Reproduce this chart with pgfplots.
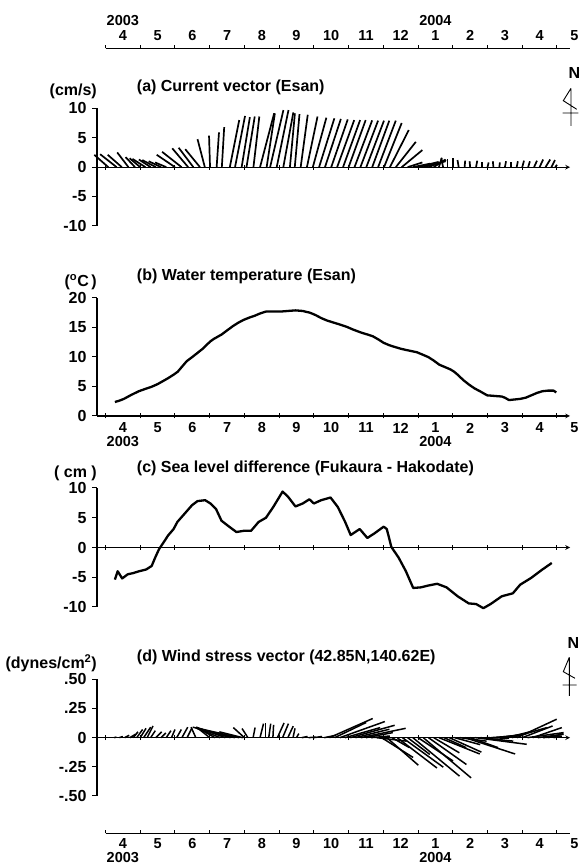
\documentclass[border=0pt]{standalone}
\usepackage{fontspec}
\setmainfont{Liberation Sans}
\usepackage{pgfplots}
\pgfplotsset{compat=1.18}
\usepackage{pgfplotstable}

% (a) current vectors: base time (months from 1 Apr 2003), east u, north v (cm/s)
\pgfplotstableread{
t u v
0.08 -2.37 2.09
0.32 -2.8 2.2
0.47 -2.4 2.1
0.66 -1.9 2.5
0.85 -1.6 1.7
1.00 -1.8 1.5
1.15 -2.2 1.4
1.30 -2.0 1.3
1.45 -2.3 1.2
1.60 -2.1 1.0
1.75 -1.9 0.8
2.00 -3.1 2.1
2.19 -3.3 2.6
2.38 -2.7 3.2
2.53 -2.5 3.3
2.72 -2.5 3.05
2.86 -1.24 4.75
3.01 -0.17 5.37
3.20 0.4 5.9
3.35 0.4 6.8
3.58 1.6 8.0
3.73 1.7 8.7
3.92 1.4 8.5
4.06 1.4 8.6
4.26 1.0 8.6
4.45 2.4 9.15
4.64 1.4 9.15
4.74 2.26 9.7
4.93 2.0 9.7
5.12 1.7 9.3
5.31 0.85 9.15
5.45 0.8 9.0
5.62 1.2 8.9
5.80 1.8 8.6
5.97 2.3 8.4
6.15 2.6 8.3
6.32 2.7 8.2
6.50 2.8 8.1
6.67 2.9 8.0
6.84 2.9 8.0
7.00 2.9 8.0
7.17 3.0 7.95
7.34 3.0 7.9
7.51 3.0 7.9
7.68 2.9 7.9
7.85 3.0 7.9
8.02 3.0 7.5
8.19 3.2 6.3
8.36 3.4 4.3
8.53 3.5 2.9
8.70 2.5 0.8
8.85 3.0 0.6
9.00 3.5 0.9
9.15 3.8 1.0
9.30 3.0 1.2
9.45 2.0 1.3
9.60 0.5 1.6
9.72 -0.3 1.5
9.85 0.0 1.3
10.00 0.0 1.5
10.17 -0.2 1.2
10.34 0.1 1.1
10.50 -0.1 1.0
10.67 0.2 1.1
10.84 0.0 0.9
11.00 0.2 0.8
11.17 -0.1 1.0
11.34 0.1 0.8
11.50 0.2 1.0
11.67 0.0 0.9
11.84 0.2 1.0
12.00 0.3 1.1
12.17 0.3 1.0
12.34 0.5 1.1
12.50 0.6 1.3
12.67 0.8 1.3
12.84 0.6 1.2
12.95 0.3 0.4
}\currentdata

% (b) water temperature (deg C)
\pgfplotstableread{
t T
0.27 2.37
0.40 2.6
0.53 2.9
0.75 3.6
0.96 4.2
1.15 4.6
1.33 4.96
1.50 5.4
1.65 5.9
1.80 6.4
1.96 7.0
2.08 7.5
2.18 8.2
2.34 9.3
2.50 10.0
2.65 10.7
2.80 11.4
2.92 12.1
3.03 12.7
3.13 13.1
3.34 13.8
3.50 14.5
3.66 15.2
3.82 15.8
3.98 16.3
4.15 16.7
4.30 17.0
4.46 17.4
4.62 17.7
4.80 17.7
5.04 17.7
5.25 17.8
5.47 17.9
5.68 17.8
5.89 17.5
6.05 17.1
6.21 16.6
6.37 16.2
6.53 15.9
6.75 15.5
6.95 15.1
7.15 14.6
7.38 14.1
7.55 13.8
7.70 13.5
7.85 13.0
8.01 12.4
8.17 12.0
8.33 11.7
8.50 11.4
8.65 11.2
8.81 11.0
8.97 10.8
9.13 10.4
9.29 10.0
9.45 9.4
9.61 8.7
9.77 8.3
9.93 7.9
10.04 7.5
10.14 7.0
10.30 6.1
10.46 5.35
10.62 4.7
10.78 4.2
10.90 3.8
10.99 3.5
11.20 3.4
11.41 3.3
11.50 3.1
11.62 2.7
11.78 2.8
11.94 2.9
12.10 3.1
12.26 3.5
12.42 3.9
12.58 4.2
12.74 4.3
12.90 4.3
12.98 4.0
}\tempdata

% (c) sea level difference (cm)
\pgfplotstableread{
t h
0.27 -5.4
0.35 -3.98
0.48 -5.2
0.64 -4.5
0.80 -4.3
0.96 -4.0
1.17 -3.7
1.33 -3.1
1.43 -1.7
1.54 -0.3
1.70 1.1
1.80 2.0
1.96 3.1
2.07 4.3
2.28 5.7
2.49 7.1
2.65 7.8
2.87 7.95
3.02 7.4
3.18 6.5
3.34 4.5
3.56 3.5
3.77 2.6
3.98 2.8
4.19 2.8
4.41 4.3
4.62 5.0
4.83 6.8
5.10 9.4
5.26 8.5
5.47 6.9
5.68 7.4
5.87 8.1
6.00 7.4
6.21 7.95
6.48 8.4
6.69 6.8
6.90 4.3
7.06 2.1
7.32 3.1
7.54 1.6
7.75 2.4
8.01 3.5
8.10 3.1
8.23 0.1
8.44 -1.7
8.65 -4.0
8.86 -6.8
9.08 -6.7
9.29 -6.4
9.55 -6.1
9.82 -6.7
10.14 -8.2
10.46 -9.4
10.67 -9.5
10.88 -10.2
11.09 -9.5
11.41 -8.2
11.73 -7.7
11.94 -6.25
12.26 -5.1
12.58 -3.7
12.85 -2.6
}\sealevel

% (d) wind stress vectors: base time, east u, north v (dynes/cm^2)
\pgfplotstableread{
t u v
0.25 0.02 0.005
0.40 0.03 0.01
0.55 0.04 0.02
0.70 0.05 0.03
0.80 0.04 0.05
0.90 0.05 0.07
1.00 0.05 0.08
1.10 0.06 0.09
1.20 0.05 0.10
1.30 0.04 0.06
1.45 0.05 0.05
1.60 0.04 0.04
1.75 0.04 0.06
1.90 0.03 0.07
2.05 0.04 0.07
2.20 0.05 0.09
2.35 0.04 0.08
2.60 -0.04 0.09
3.00 -0.10 0.08
3.15 -0.15 0.085
3.30 -0.20 0.08
3.45 -0.25 0.09
3.60 -0.30 0.085
3.72 -0.36 0.09
3.85 -0.33 0.075
3.95 -0.20 0.05
4.00 -0.095 0.086
4.10 -0.05 0.078
4.25 0.017 0.086
4.45 0.03 0.12
4.60 0.0 0.126
4.70 0.017 0.12
4.82 0.006 0.11
4.95 0.057 0.126
5.10 0.05 0.12
5.25 0.046 0.098
5.40 0.017 0.08
5.50 0.02 0.035
5.65 0.05 0.01
5.85 0.06 0.005
6.00 0.07 0.01
6.15 0.06 0.0
6.30 0.10 0.02
6.45 0.37 0.164
6.60 0.27 0.13
6.75 0.385 0.138
6.90 0.30 0.086
7.05 0.38 0.106
7.20 0.29 0.072
7.35 0.385 0.08
7.50 0.23 0.043
7.65 0.16 0.014
7.80 0.26 -0.03
7.95 0.27 -0.17
8.10 0.27 -0.236
8.25 0.15 -0.086
8.40 0.34 -0.26
8.55 0.35 -0.253
8.70 0.19 -0.144
8.85 0.40 -0.33
9.00 0.30 -0.20
9.15 0.41 -0.345
9.30 0.325 -0.23
9.45 0.22 -0.13
9.60 0.35 -0.14
9.75 0.19 -0.086
9.90 0.275 -0.124
10.05 0.22 -0.06
10.20 0.23 -0.03
10.35 0.43 -0.14
10.50 0.24 -0.086
10.65 0.44 -0.057
10.80 0.28 -0.03
10.95 0.20 -0.005
11.10 0.19 0.014
11.25 0.20 0.023
11.40 0.215 0.034
11.55 0.227 0.057
11.70 0.30 0.086
11.85 0.34 0.158
12.00 0.26 0.10
12.15 0.31 0.043
12.30 0.25 0.086
12.45 0.22 0.029
12.60 0.16 0.014
12.75 0.13 0.034
12.90 0.06 0.01
}\winddata

\tikzset{mlab/.style={inner sep=0pt, font=\fontsize{14.5}{17}\selectfont\bfseries}}
\newcommand{\monthlabels}[2]{%
  \node[mlab, yshift=#1] at (axis cs:0.5,0) {4};
  \node[mlab, yshift=#1] at (axis cs:1.5,0) {5};
  \node[mlab, yshift=#1] at (axis cs:2.5,0) {6};
  \node[mlab, yshift=#1] at (axis cs:3.5,0) {7};
  \node[mlab, yshift=#1] at (axis cs:4.5,0) {8};
  \node[mlab, yshift=#1] at (axis cs:5.5,0) {9};
  \node[mlab, yshift=#1] at (axis cs:6.5,0) {10};
  \node[mlab, yshift=#1] at (axis cs:7.5,0) {11};
  \node[mlab, yshift=#1] at (axis cs:8.5,0) {12};
  \node[mlab, yshift=#1] at (axis cs:9.5,0) {1};
  \node[mlab, yshift=#1] at (axis cs:10.5,0) {2};
  \node[mlab, yshift=#1] at (axis cs:11.5,0) {3};
  \node[mlab, yshift=#1] at (axis cs:12.5,0) {4};
  \node[mlab, yshift=#1] at (axis cs:13.5,0) {5};
  \node[mlab, yshift=#2] at (axis cs:0.5,0) {2003};
  \node[mlab, yshift=#2] at (axis cs:9.5,0) {2004};
}

\pgfplotsset{
  panel/.style={
    scale only axis, width=473pt,
    xmin=-0.2447, xmax=13.375,
    axis y line=left,
    axis line style={-, line width=1.1pt, black},
    xtick={0,...,13}, xticklabels={},
    tick align=center, major tick length=5pt,
    every tick/.style={black, line width=1pt},
    ytick style={xshift=-2.5pt},
    yticklabel style={xshift=-2.5pt},
    tick label style={font=\fontsize{16}{19}\selectfont\bfseries},
    hide obscured x ticks=false, hide obscured y ticks=false,
    clip=false,
  },
  timeaxis/.style={
    scale only axis, width=464.5pt, height=10pt,
    xmin=0, xmax=13.375, ymin=0, ymax=1,
    axis x line*=bottom, axis y line=none,
    axis line style={-, line width=1.1pt, black},
    xtick={0,...,13}, xticklabels={}, ytick=\empty,
    tick align=inside, major tick length=3.5pt,
    every tick/.style={black, line width=1pt},
    clip=false,
  },
}

\begin{document}
\fontsize{16}{19}\selectfont\bfseries
\begin{tikzpicture}[font=\fontsize{16}{19}\selectfont\bfseries]
\path[use as bounding box] (0,0) rectangle (580pt,867pt);

% top time axis
\begin{axis}[timeaxis, at={(105.5pt,818.7pt)}, anchor=south west]
\monthlabels{12.8pt}{27.6pt}
\end{axis}

% (a) current vectors
\begin{axis}[panel, at={(97pt,641pt)}, anchor=south west, height=117.7pt,
  ymin=-10, ymax=10, axis x line=middle,
  ytick={-10,-5,0,5,10}, yticklabels={-10,-5,0,5,10}]
\addplot[black, line width=1.7pt, quiver={u={\thisrow{u}*0.1695}, v={\thisrow{v}}}]
  table[x=t, y expr=0] {\currentdata};
\node[anchor=west, inner sep=0pt, yshift=21pt] at (axis description cs:0.084,1) {(a) Current vector (Esan)};
\node[anchor=east, inner sep=0pt, yshift=16.6pt] at (axis description cs:0,1) {(cm/s)};
\end{axis}

% (b) water temperature
\begin{axis}[panel, at={(97pt,451pt)}, anchor=south west, height=118pt,
  ymin=0, ymax=20, axis x line=bottom,
  ytick={0,5,10,15,20}, yticklabels={0,5,10,15,20}]
\addplot[black, line width=2.3pt, line join=round] table[x=t, y=T] {\tempdata};
\node[anchor=west, inner sep=0pt, yshift=21.3pt] at (axis description cs:0.084,1) {(b) Water temperature (Esan)};
\node[anchor=east, inner sep=0pt, yshift=16pt] at (axis description cs:0,1) {(\textsuperscript{o}C\,)};
\monthlabels{-12pt}{-26pt}
\end{axis}

% (c) sea level difference
\begin{axis}[panel, at={(97pt,260pt)}, anchor=south west, height=119pt,
  ymin=-10, ymax=10, axis x line=middle,
  ytick={-10,-5,0,5,10}, yticklabels={-10,-5,0,5,10}]
\addplot[black, line width=2.3pt, line join=round] table[x=t, y=h] {\sealevel};
\node[anchor=west, inner sep=0pt, yshift=20pt] at (axis description cs:0.084,1) {(c) Sea level difference (Fukaura - Hakodate)};
\node[anchor=east, inner sep=0pt, yshift=15pt] at (axis description cs:0,1) {( cm )};
\end{axis}

% (d) wind stress vectors
\begin{axis}[panel, at={(97pt,71pt)}, anchor=south west, height=116.7pt,
  ymin=-0.5, ymax=0.5, axis x line=middle,
  ytick={-0.5,-0.25,0,0.25,0.5}, yticklabels={-.50,-.25,0,.25,.50}]
\addplot[black, line width=1.5pt, quiver={u={\thisrow{u}*3.36}, v={\thisrow{v}}}]
  table[x=t, y expr=0] {\winddata};
\node[anchor=west, inner sep=0pt, yshift=22.3pt] at (axis description cs:0.084,1) {(d) Wind stress vector (42.85N,140.62E)};
\node[anchor=east, inner sep=0pt, yshift=16.3pt] at (axis description cs:0,1) {(dynes/cm\textsuperscript{2})};
\end{axis}

% bottom time axis
\begin{axis}[timeaxis, at={(105.5pt,33.5pt)}, anchor=south west]
\monthlabels{-10pt}{-24pt}
\end{axis}

% north symbols
\node[inner sep=0pt] at (574.5pt,794pt) {N};
\draw[line width=0.9pt] (571pt,778.7pt) -- (571pt,741pt)
  (562.7pt,754pt) -- (578.3pt,754pt)
  (571pt,778.7pt) -- (563.3pt,766.3pt) -- (576.7pt,757.7pt);
\node[inner sep=0pt] at (573.3pt,223.7pt) {N};
\draw[line width=0.9pt] (569.3pt,209.7pt) -- (569.3pt,171pt)
  (562.7pt,182pt) -- (576.7pt,182pt)
  (569.3pt,209.7pt) -- (563.3pt,195.3pt) -- (575pt,188.7pt);
\end{tikzpicture}
\end{document}
